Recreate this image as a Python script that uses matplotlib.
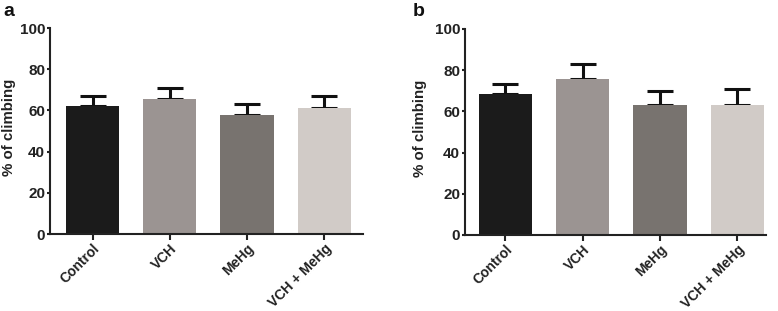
import matplotlib.pyplot as plt
import numpy as np

plt.rcParams["font.family"] = ["Liberation Sans", "DejaVu Sans"]
plt.rcParams["font.weight"] = "bold"

groups = ["Control", "VCH", "MeHg", "VCH + MeHg"]
colors = ["#1b1b1b", "#9b9492", "#78736f", "#d1cbc7"]

mean_a = [62.0, 65.4, 57.8, 61.2]
err_a = [4.8, 5.6, 5.2, 5.8]
mean_b = [68.3, 75.9, 63.3, 63.3]
err_b = [5.0, 6.9, 6.4, 7.6]

yticks = [0, 20, 40, 60, 80, 100]

W, H = 778, 311


def px_axes(fig, left, right, top, bottom):
    return fig.add_axes([left / W, 1 - bottom / H, (right - left) / W, (bottom - top) / H])


def draw_panel(ax, means, errs, xlim, label_x):
    x = np.arange(len(groups))
    ax.bar(x, means, width=0.69, color=colors, zorder=2)
    ax.errorbar(x, means, yerr=[np.zeros(len(errs)), errs], fmt="none",
                ecolor="#111111", elinewidth=2.2, capsize=9.5, capthick=2.2, zorder=1)
    ax.set_xlim(*xlim)
    ax.set_ylim(0, 100)
    ax.set_yticks(yticks)
    ax.set_xticks(x)
    ax.set_xticklabels(groups, rotation=45, ha="right", rotation_mode="anchor",
                       fontsize=10, fontweight="bold", color="#222222")
    ax.tick_params(axis="y", labelsize=11, colors="#222222", width=1.5, length=2.5, pad=1)
    ax.tick_params(axis="x", width=1.5, length=4, colors="#222222", pad=1.5)
    for lab in ax.get_yticklabels():
        lab.set_fontweight("bold")
    for s in ["top", "right"]:
        ax.spines[s].set_visible(False)
    for s in ["left", "bottom"]:
        ax.spines[s].set_linewidth(1.5)
        ax.spines[s].set_color("#222222")
    ax.set_ylabel("% of climbing", fontsize=10.8, fontweight="bold", color="#222222",
                  va="center")
    ax.yaxis.set_label_coords(label_x, 0.52)


fig = plt.figure(figsize=(W / 100, H / 100), dpi=100)

ax_a = px_axes(fig, 50, 363, 28, 234)
draw_panel(ax_a, mean_a, err_a, (-0.55, 3.5), -0.131)

ax_b = px_axes(fig, 465, 766, 29, 235)
draw_panel(ax_b, mean_b, err_b, (-0.52, 3.37), -0.15)

fig.text(3 / W, 1 - 3 / H, "a", fontsize=14, fontweight="bold", color="#111111",
         va="top", ha="left")
fig.text(413 / W, 1 - 3 / H, "b", fontsize=14, fontweight="bold", color="#111111",
         va="top", ha="left")

fig.savefig("out.png", dpi=100)
